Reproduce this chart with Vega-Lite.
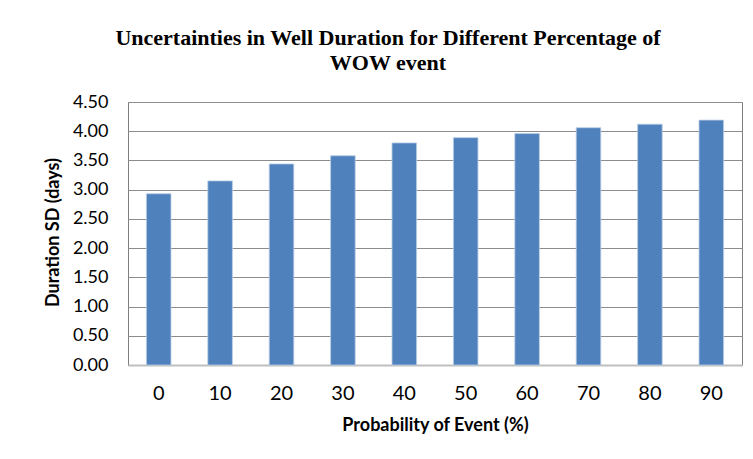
{
  "$schema": "https://vega.github.io/schema/vega-lite/v6.json",
  "autosize": "none",
  "width": 614,
  "height": 263,
  "padding": {"left": 128, "top": 102, "right": 11, "bottom": 94},
  "background": "white",
  "title": {
    "text": ["Uncertainties in Well Duration for Different Percentage of", "WOW event"],
    "font": "Liberation Serif",
    "fontSize": 22,
    "fontWeight": "bold",
    "color": "#000000",
    "anchor": "middle",
    "dx": -47,
    "offset": 18,
    "lineHeight": 25
  },
  "data": {
    "values": [
      {"probability": "0", "sd": 2.93},
      {"probability": "10", "sd": 3.15},
      {"probability": "20", "sd": 3.44},
      {"probability": "30", "sd": 3.58},
      {"probability": "40", "sd": 3.80},
      {"probability": "50", "sd": 3.89},
      {"probability": "60", "sd": 3.96},
      {"probability": "70", "sd": 4.06},
      {"probability": "80", "sd": 4.12},
      {"probability": "90", "sd": 4.19}
    ]
  },
  "mark": {"type": "bar", "color": "#4F81BD", "stroke": "#B9CDE5", "strokeWidth": 0.8},
  "encoding": {
    "x": {
      "field": "probability",
      "type": "ordinal",
      "sort": null,
      "scale": {"paddingInner": 0.6, "paddingOuter": 0.3},
      "axis": {
        "title": "Probability of Event (%)",
        "labelAngle": 0,
        "labelFont": "Lato",
        "labelFontSize": 20,
        "labelColor": "#000000",
        "labelBaseline": "alphabetic",
        "labelPadding": 34,
        "ticks": false,
        "domainColor": "#BFBFBF",
        "domainWidth": 2,
        "titleFont": "Lato",
        "titleFontSize": 18,
        "titleFontWeight": "bold",
        "titleColor": "#000000",
        "titleBaseline": "alphabetic",
        "titleY": 65
      }
    },
    "y": {
      "field": "sd",
      "type": "quantitative",
      "scale": {"domain": [0, 4.5]},
      "axis": {
        "title": "Duration SD (days)",
        "values": [0, 0.5, 1, 1.5, 2, 2.5, 3, 3.5, 4, 4.5],
        "format": ".2f",
        "labelFont": "Lato",
        "labelFontSize": 18,
        "labelColor": "#000000",
        "labelPadding": 20,
        "ticks": false,
        "domain": false,
        "gridColor": "#8C8C8C",
        "gridWidth": 1,
        "titleFont": "Lato",
        "titleFontSize": 18,
        "titleFontWeight": "bold",
        "titleColor": "#000000",
        "titleBaseline": "alphabetic",
        "titleX": -70,
        "titleY": 130
      }
    }
  },
  "config": {
    "view": {"stroke": "#7F7F7F", "strokeWidth": 1}
  }
}
